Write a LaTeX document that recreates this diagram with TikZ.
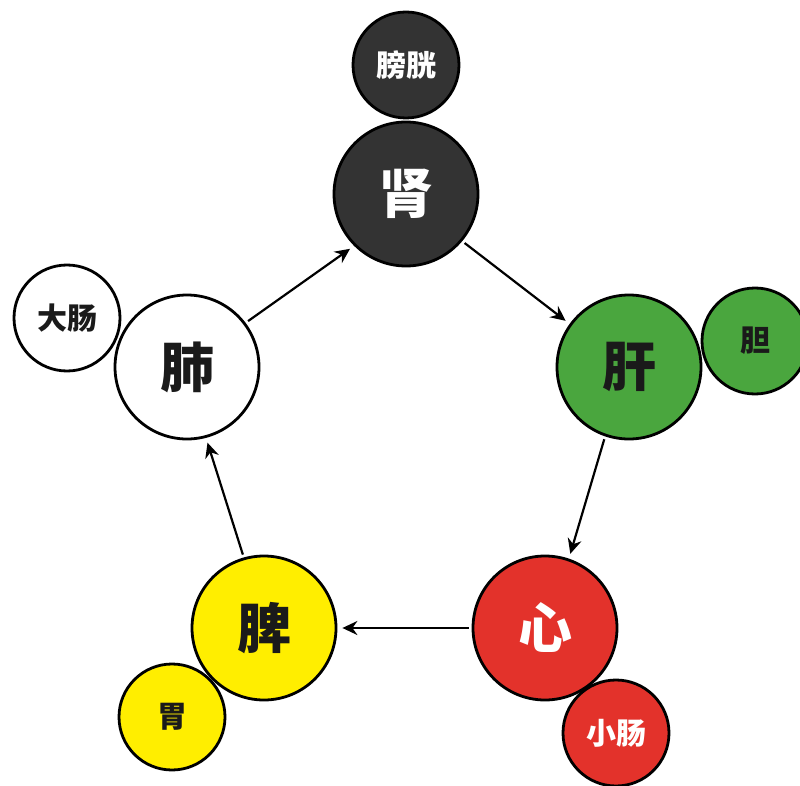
\documentclass[tikz,border=0pt]{standalone}
\usepackage{fontspec}
\newfontfamily\cjk{Noto Sans CJK SC}
\usetikzlibrary{arrows.meta}
\definecolor{cdark}{HTML}{333333}
\definecolor{cgreen}{HTML}{4AA63E}
\definecolor{cred}{HTML}{E3322B}
\definecolor{cyellow}{HTML}{FFEE00}
\definecolor{ctext}{HTML}{1A1A1A}
\begin{document}
\begin{tikzpicture}[x=1pt,y=-1pt,
  organ/.style={circle,draw=black,line width=2.8pt,minimum size=144pt,inner sep=0pt,
    font=\cjk\bfseries\fontsize{54}{54}\selectfont},
  fu/.style={circle,draw=black,line width=2.8pt,minimum size=106pt,inner sep=0pt,
    font=\cjk\bfseries\fontsize{30}{30}\selectfont},
  flow/.style={-{Stealth[length=15pt,width=14pt,inset=5pt]},line width=2.2pt,shorten <=3pt,shorten >=5pt}]
\useasboundingbox (0,0) rectangle (800,786);
\fill[white] (0,0) rectangle (800,786);
% fu organs
\node[fu,fill=cdark,text=white] (pangguang) at (406,65) {膀胱};
\node[fu,fill=cgreen,text=ctext] (dan) at (755,341) {胆};
\node[fu,fill=cred,text=white] (xiaochang) at (616,733) {小肠};
\node[fu,fill=cyellow,text=ctext] (wei) at (172,717) {胃};
\node[fu,fill=white,text=ctext] (dachang) at (67,318) {大肠};
% zang organs
\node[organ,fill=cdark,text=white] (shen) at (406,194) {肾};
\node[organ,fill=cgreen,text=ctext] (gan) at (629,367) {肝};
\node[organ,fill=cred,text=white] (xin) at (545,628) {心};
\node[organ,fill=cyellow,text=ctext] (pi) at (264,628) {脾};
\node[organ,fill=white,text=ctext] (fei) at (187,367) {肺};
% cycle
\draw[flow] (fei.37) -- (shen.225);
\draw[flow] (shen.-40) -- (gan.144);
\draw[flow] (gan.-109) -- (xin.71);
\draw[flow] (xin.180) -- (pi.0);
\draw[flow] (pi.106) -- (fei.-75);
\end{tikzpicture}
\end{document}
